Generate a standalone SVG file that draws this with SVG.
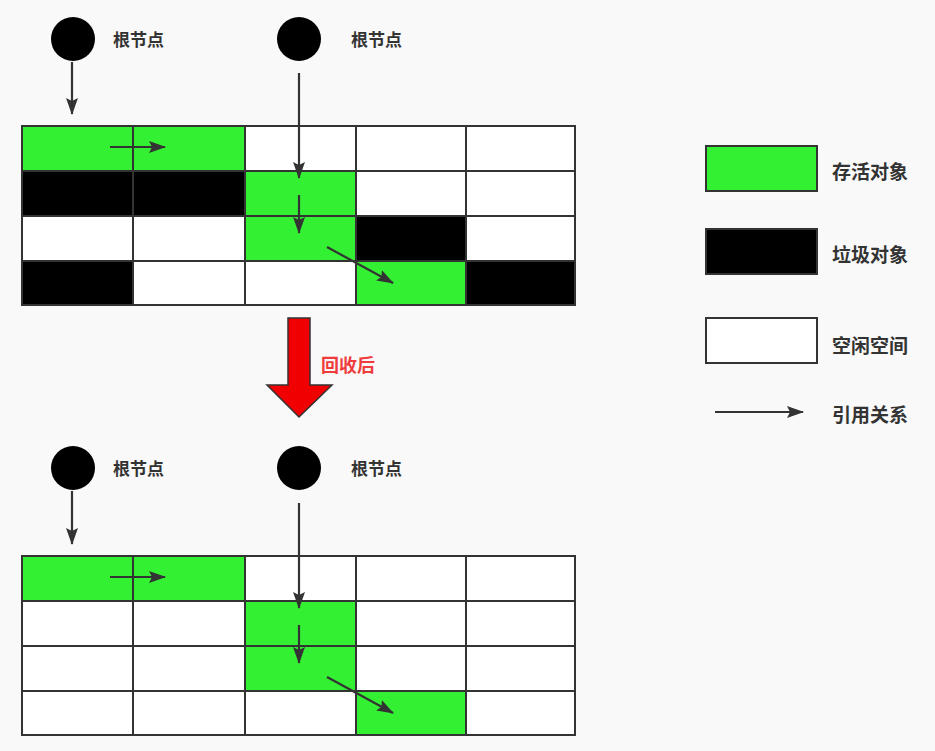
<svg xmlns="http://www.w3.org/2000/svg" width="935" height="751" viewBox="0 0 935 751">
<style>
.g{fill:#33f033;stroke:#333;stroke-width:2}
.b{fill:#000;stroke:#333;stroke-width:2}
.w{fill:#fff;stroke:#333;stroke-width:2}
.lbl{font-family:"Noto Sans CJK SC","Noto Sans",sans-serif;font-weight:bold;font-size:17px;fill:#333}
.leg{font-family:"Noto Sans CJK SC","Noto Sans",sans-serif;font-weight:bold;font-size:19px;fill:#333}
.ln{stroke:#333;stroke-width:2.2;fill:none;marker-end:url(#ah)}
</style>
<defs>
<marker id="ah" viewBox="0 0 17 12" refX="16" refY="6" markerWidth="17" markerHeight="12" markerUnits="userSpaceOnUse" orient="auto">
<path d="M0,0 L17,6 L0,12 L3,6 Z" fill="#333"/>
</marker>
</defs>
<rect x="0" y="0" width="935" height="751" fill="#f9f9f9"/>

<g id="root-top-1"><circle cx="73" cy="39" r="22" fill="#000"/><text class="lbl" x="113" y="46">根节点</text></g>
<g id="root-top-2"><circle cx="299" cy="39" r="22" fill="#000"/><text class="lbl" x="351" y="46">根节点</text></g>

<g id="grid-top">
<rect class="g" x="22" y="126" width="111" height="45"/><rect class="g" x="133" y="126" width="112" height="45"/><rect class="w" x="245" y="126" width="111" height="45"/><rect class="w" x="356" y="126" width="110" height="45"/><rect class="w" x="466" y="126" width="109" height="45"/>
<rect class="b" x="22" y="171" width="111" height="45"/><rect class="b" x="133" y="171" width="112" height="45"/><rect class="g" x="245" y="171" width="111" height="45"/><rect class="w" x="356" y="171" width="110" height="45"/><rect class="w" x="466" y="171" width="109" height="45"/>
<rect class="w" x="22" y="216" width="111" height="45"/><rect class="w" x="133" y="216" width="112" height="45"/><rect class="g" x="245" y="216" width="111" height="45"/><rect class="b" x="356" y="216" width="110" height="45"/><rect class="w" x="466" y="216" width="109" height="45"/>
<rect class="b" x="22" y="261" width="111" height="44"/><rect class="w" x="133" y="261" width="112" height="44"/><rect class="w" x="245" y="261" width="111" height="44"/><rect class="g" x="356" y="261" width="110" height="44"/><rect class="b" x="466" y="261" width="109" height="44"/>
</g>

<g id="root-bot-1"><circle cx="73" cy="468" r="22" fill="#000"/><text class="lbl" x="113" y="475">根节点</text></g>
<g id="root-bot-2"><circle cx="299" cy="468" r="22" fill="#000"/><text class="lbl" x="351" y="475">根节点</text></g>

<g id="grid-bottom">
<rect class="g" x="22" y="556" width="111" height="45"/><rect class="g" x="133" y="556" width="112" height="45"/><rect class="w" x="245" y="556" width="111" height="45"/><rect class="w" x="356" y="556" width="110" height="45"/><rect class="w" x="466" y="556" width="109" height="45"/>
<rect class="w" x="22" y="601" width="111" height="45"/><rect class="w" x="133" y="601" width="112" height="45"/><rect class="g" x="245" y="601" width="111" height="45"/><rect class="w" x="356" y="601" width="110" height="45"/><rect class="w" x="466" y="601" width="109" height="45"/>
<rect class="w" x="22" y="646" width="111" height="45"/><rect class="w" x="133" y="646" width="112" height="45"/><rect class="g" x="245" y="646" width="111" height="45"/><rect class="w" x="356" y="646" width="110" height="45"/><rect class="w" x="466" y="646" width="109" height="45"/>
<rect class="w" x="22" y="691" width="111" height="44"/><rect class="w" x="133" y="691" width="112" height="44"/><rect class="w" x="245" y="691" width="111" height="44"/><rect class="g" x="356" y="691" width="110" height="44"/><rect class="w" x="466" y="691" width="109" height="44"/>
</g>

<g id="connectors">
<line class="ln" x1="72" y1="62" x2="72" y2="114"/>
<line class="ln" x1="299" y1="73" x2="299" y2="178"/>
<line class="ln" x1="110" y1="147" x2="165" y2="147"/>
<line class="ln" x1="299" y1="195" x2="299" y2="233"/>
<line class="ln" x1="327" y1="247" x2="393" y2="283"/>
<line class="ln" x1="72" y1="491" x2="72" y2="544"/>
<line class="ln" x1="299" y1="503" x2="299" y2="608"/>
<line class="ln" x1="110" y1="577" x2="165" y2="577"/>
<line class="ln" x1="299" y1="625" x2="299" y2="663"/>
<line class="ln" x1="327" y1="677" x2="393" y2="713"/>
</g>

<g id="collect-arrow">
<polygon points="288,318 310,318 310,385 332,385 299,417 267,385 288,385" fill="#f00000" stroke="#333" stroke-width="1.5"/>
<text x="321" y="372" font-family="'Noto Sans CJK SC','Noto Sans',sans-serif" font-weight="bold" font-size="18" fill="#f03c3c">回收后</text>
</g>

<g id="legend-live"><rect class="g" x="706" y="146" width="111" height="45"/><text class="leg" x="832" y="179">存活对象</text></g>
<g id="legend-garbage"><rect class="b" x="706" y="229" width="111" height="45"/><text class="leg" x="832" y="262">垃圾对象</text></g>
<g id="legend-free"><rect class="w" x="706" y="318" width="111" height="45"/><text class="leg" x="832" y="353">空闲空间</text></g>
<g id="legend-ref"><line class="ln" x1="715" y1="412" x2="803" y2="412"/><text class="leg" x="832" y="422">引用关系</text></g>
</svg>
